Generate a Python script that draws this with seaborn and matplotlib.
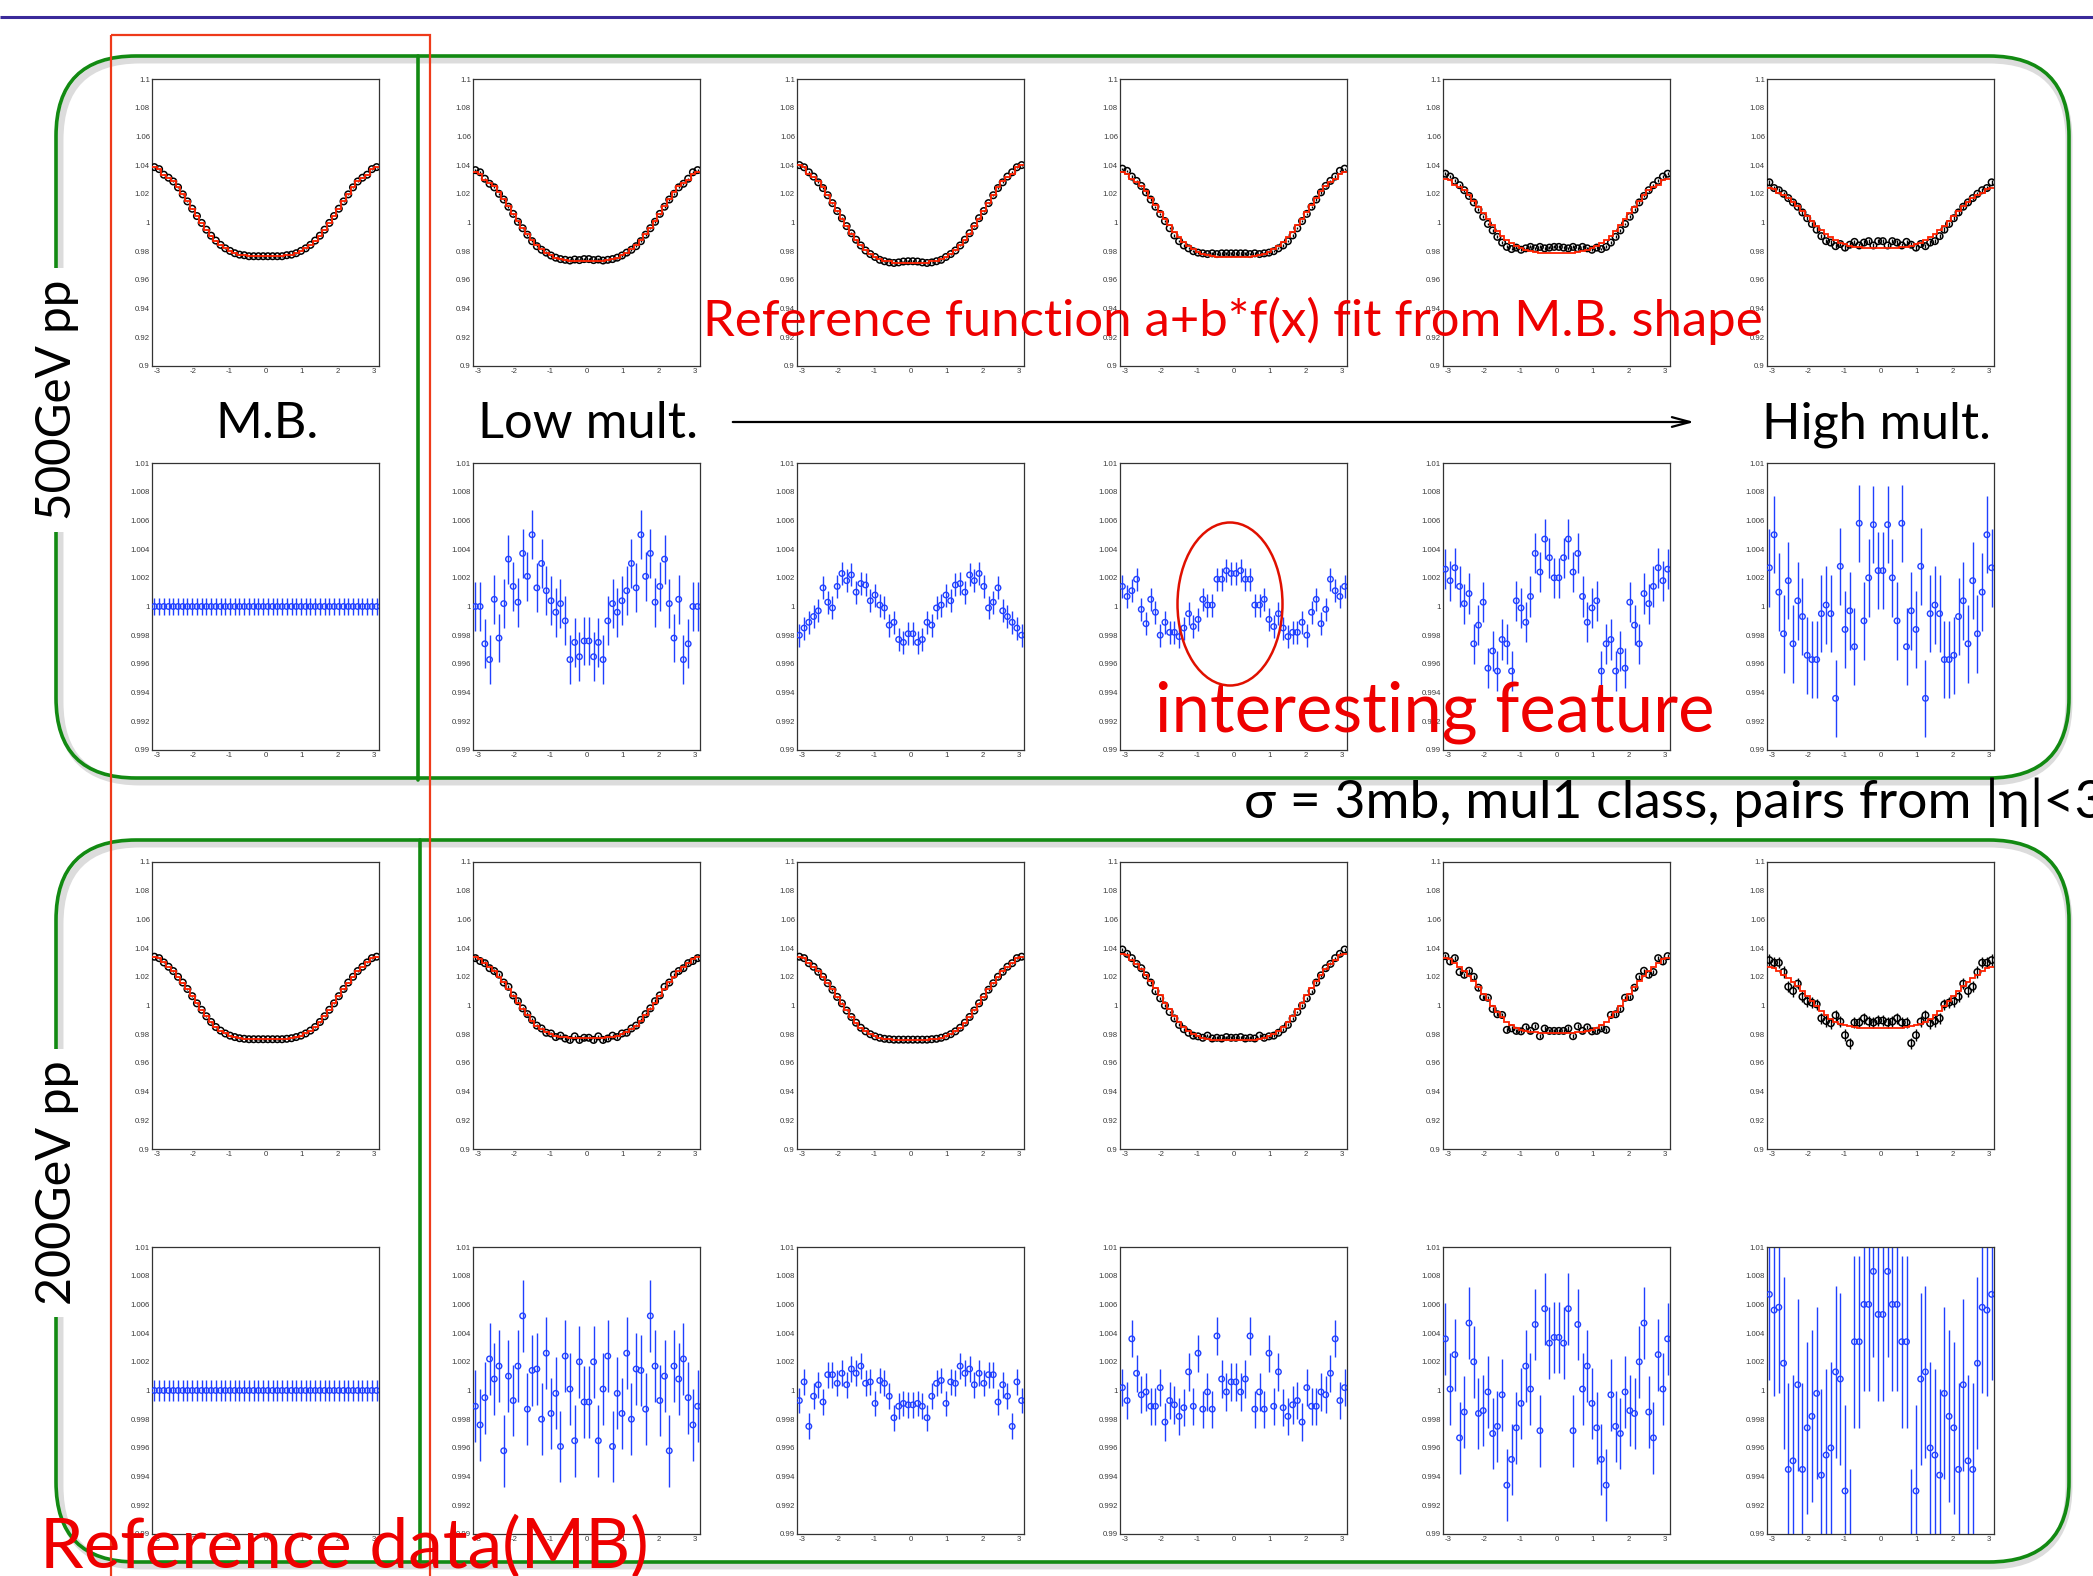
import numpy as np
import matplotlib
matplotlib.use("Agg")
import matplotlib.pyplot as plt
import seaborn as sns
from matplotlib.patches import FancyBboxPatch, Ellipse, Rectangle
from matplotlib.ticker import FixedLocator, MultipleLocator, FixedFormatter

# ---------------------------------------------------------------------------
# Data: 48 delta-phi bins on [-pi, pi]; the distributions are symmetrised,
# so each list holds the 24 bins from -pi up to 0 and is mirrored.
# ---------------------------------------------------------------------------
n_bins = 48
mult_labels = ["M.B.", "Low mult.", "", "", "", "High mult."]

# 500 GeV pp correlation functions (M.B. then five multiplicity classes)
c500_mb = [1.0386, 1.0372, 1.0333, 1.0312, 1.0286, 1.0245, 1.0196, 1.0147, 1.0096, 1.0045, 0.9997, 0.9950,
           0.9908, 0.9874, 0.9844, 0.9820, 0.9802, 0.9786, 0.9776, 0.9772, 0.9765, 0.9765, 0.9765, 0.9765]
c500_m1 = [1.0365, 1.0350, 1.0305, 1.0270, 1.0245, 1.0200, 1.0160, 1.0110, 1.0060, 1.0005, 0.9960, 0.9915,
           0.9870, 0.9835, 0.9810, 0.9790, 0.9770, 0.9755, 0.9745, 0.9740, 0.9735, 0.9742, 0.9738, 0.9745]
c500_m2 = [1.0400, 1.0385, 1.0350, 1.0320, 1.0280, 1.0240, 1.0190, 1.0135, 1.0080, 1.0030, 0.9975, 0.9925,
           0.9880, 0.9840, 0.9805, 0.9780, 0.9760, 0.9740, 0.9730, 0.9722, 0.9718, 0.9722, 0.9728, 0.9730]
c500_m3 = [1.0375, 1.0360, 1.0320, 1.0290, 1.0255, 1.0210, 1.0160, 1.0110, 1.0060, 1.0010, 0.9960, 0.9910,
           0.9870, 0.9840, 0.9820, 0.9800, 0.9790, 0.9785, 0.9780, 0.9785, 0.9780, 0.9785, 0.9785, 0.9785]
c500_m4 = [1.0340, 1.0320, 1.0290, 1.0260, 1.0225, 1.0185, 1.0140, 1.0090, 1.0040, 0.9990, 0.9945, 0.9900,
           0.9860, 0.9830, 0.9815, 0.9825, 0.9810, 0.9820, 0.9830, 0.9820, 0.9830, 0.9820, 0.9825, 0.9830]
c500_m5 = [1.0280, 1.0240, 1.0225, 1.0200, 1.0170, 1.0140, 1.0110, 1.0070, 1.0030, 0.9990, 0.9950, 0.9905,
           0.9870, 0.9860, 0.9835, 0.9850, 0.9825, 0.9845, 0.9865, 0.9840, 0.9860, 0.9870, 0.9840, 0.9870]
c500_err = [0.0003, 0.0008, 0.0006, 0.0008, 0.0010, 0.0016]

# 500 GeV pp: data / (a + b * M.B. shape)
r500_mb = [1.0000, 1.0000, 1.0000, 1.0000, 1.0000, 1.0000, 1.0000, 1.0000, 1.0000, 1.0000, 1.0000, 1.0000,
           1.0000, 1.0000, 1.0000, 1.0000, 1.0000, 1.0000, 1.0000, 1.0000, 1.0000, 1.0000, 1.0000, 1.0000]
r500_m1 = [1.0000, 1.0000, 0.9974, 0.9963, 1.0005, 0.9978, 1.0002, 1.0033, 1.0014, 1.0003, 1.0037, 1.0021,
           1.0050, 1.0013, 1.0030, 1.0011, 1.0004, 0.9996, 1.0002, 0.9990, 0.9963, 0.9975, 0.9965, 0.9976]
r500_m2 = [0.9980, 0.9985, 0.9989, 0.9993, 0.9997, 1.0013, 1.0003, 0.9999, 1.0014, 1.0023, 1.0018, 1.0022,
           1.0010, 1.0016, 1.0015, 1.0004, 1.0008, 1.0001, 0.9999, 0.9987, 0.9989, 0.9977, 0.9975, 0.9981]
r500_m3 = [1.0014, 1.0007, 1.0011, 1.0019, 0.9998, 0.9988, 1.0005, 0.9996, 0.9980, 0.9989, 0.9982, 0.9982,
           0.9979, 0.9985, 0.9995, 0.9986, 0.9991, 1.0005, 1.0001, 1.0001, 1.0019, 1.0019, 1.0025, 1.0023]
r500_m4 = [1.0026, 1.0018, 1.0027, 1.0014, 1.0002, 1.0009, 0.9974, 0.9987, 1.0003, 0.9957, 0.9969, 0.9955,
           0.9977, 0.9974, 0.9955, 1.0004, 0.9999, 0.9989, 1.0007, 1.0037, 1.0024, 1.0047, 1.0034, 1.0020]
r500_m5 = [1.0027, 1.0050, 1.0010, 0.9981, 1.0018, 0.9974, 1.0004, 0.9993, 0.9966, 0.9963, 0.9963, 0.9995,
           1.0001, 0.9995, 0.9936, 1.0028, 0.9984, 0.9997, 0.9972, 1.0058, 0.9990, 1.0020, 1.0057, 1.0025]
r500_err = [0.0006, 0.0017, 0.0008, 0.0008, 0.0014, 0.0027]

# 200 GeV pp correlation functions
c200_mb = [1.0340, 1.0330, 1.0300, 1.0270, 1.0240, 1.0200, 1.0160, 1.0115, 1.0065, 1.0015, 0.9970, 0.9925,
           0.9885, 0.9850, 0.9825, 0.9805, 0.9790, 0.9780, 0.9772, 0.9768, 0.9765, 0.9765, 0.9765, 0.9765]
c200_m1 = [1.0330, 1.0310, 1.0295, 1.0260, 1.0240, 1.0215, 1.0160, 1.0130, 1.0070, 1.0030, 0.9980, 0.9940,
           0.9900, 0.9860, 0.9840, 0.9810, 0.9805, 0.9780, 0.9790, 0.9770, 0.9760, 0.9785, 0.9760, 0.9775]
c200_m2 = [1.0340, 1.0330, 1.0295, 1.0270, 1.0235, 1.0200, 1.0155, 1.0110, 1.0060, 1.0015, 0.9965, 0.9920,
           0.9880, 0.9845, 0.9820, 0.9800, 0.9785, 0.9775, 0.9768, 0.9765, 0.9762, 0.9762, 0.9762, 0.9762]
c200_m3 = [1.0390, 1.0360, 1.0330, 1.0290, 1.0260, 1.0210, 1.0160, 1.0100, 1.0050, 1.0000, 0.9955, 0.9910,
           0.9865, 0.9835, 0.9810, 0.9790, 0.9785, 0.9775, 0.9790, 0.9770, 0.9775, 0.9770, 0.9780, 0.9775]
c200_m4 = [1.0344, 1.0307, 1.0330, 1.0233, 1.0214, 1.0242, 1.0200, 1.0124, 1.0059, 1.0054, 0.9976, 0.9939,
           0.9934, 0.9830, 0.9841, 0.9823, 0.9820, 0.9848, 0.9823, 0.9855, 0.9786, 0.9839, 0.9823, 0.9823]
c200_m5 = [1.0316, 1.0298, 1.0298, 1.0233, 1.0131, 1.0101, 1.0152, 1.0061, 1.0029, 1.0020, 1.0008, 0.9911,
           0.9892, 0.9876, 0.9932, 0.9888, 0.9793, 0.9737, 0.9881, 0.9881, 0.9911, 0.9888, 0.9881, 0.9895]
c200_err = [0.0004, 0.0012, 0.0006, 0.0010, 0.0015, 0.0040]

# 200 GeV pp: data / (a + b * M.B. shape)
r200_mb = [1.0000, 1.0000, 1.0000, 1.0000, 1.0000, 1.0000, 1.0000, 1.0000, 1.0000, 1.0000, 1.0000, 1.0000,
           1.0000, 1.0000, 1.0000, 1.0000, 1.0000, 1.0000, 1.0000, 1.0000, 1.0000, 1.0000, 1.0000, 1.0000]
r200_m1 = [0.9989, 0.9976, 0.9995, 1.0022, 1.0008, 1.0017, 0.9958, 1.0010, 0.9993, 1.0017, 1.0052, 0.9987,
           1.0014, 1.0015, 0.9980, 1.0026, 0.9984, 0.9998, 0.9961, 1.0024, 1.0001, 0.9965, 1.0020, 0.9992]
r200_m2 = [0.9993, 1.0006, 0.9975, 0.9996, 1.0004, 0.9992, 1.0011, 1.0011, 1.0005, 1.0012, 1.0004, 1.0015,
           1.0012, 1.0017, 1.0005, 1.0006, 0.9991, 1.0007, 1.0005, 0.9996, 0.9981, 0.9989, 0.9991, 0.9990]
r200_m3 = [1.0002, 0.9993, 1.0036, 1.0012, 0.9997, 0.9999, 0.9989, 0.9989, 1.0002, 0.9978, 0.9993, 0.9990,
           0.9982, 0.9988, 1.0013, 0.9989, 1.0026, 0.9987, 0.9999, 0.9987, 1.0038, 1.0008, 0.9999, 1.0006]
r200_m4 = [1.0036, 1.0001, 1.0025, 0.9967, 0.9985, 1.0047, 1.0020, 0.9984, 0.9986, 0.9999, 0.9970, 0.9975,
           0.9997, 0.9934, 0.9952, 0.9974, 0.9991, 1.0017, 1.0001, 1.0046, 0.9972, 1.0057, 1.0033, 1.0037]
r200_m5 = [1.0067, 1.0056, 1.0058, 1.0019, 0.9945, 0.9951, 1.0004, 0.9945, 0.9974, 0.9982, 0.9998, 0.9941,
           0.9955, 0.9960, 1.0013, 1.0008, 0.9930, 0.9885, 1.0034, 1.0034, 1.0060, 1.0060, 1.0083, 1.0053]
r200_err = [0.0007, 0.0025, 0.0009, 0.0013, 0.0025, 0.0060]

corr_500 = [c500_mb, c500_m1, c500_m2, c500_m3, c500_m4, c500_m5]
ratio_500 = [r500_mb, r500_m1, r500_m2, r500_m3, r500_m4, r500_m5]
corr_200 = [c200_mb, c200_m1, c200_m2, c200_m3, c200_m4, c200_m5]
ratio_200 = [r200_mb, r200_m1, r200_m2, r200_m3, r200_m4, r200_m5]

corr_ticks = [0.9, 0.92, 0.94, 0.96, 0.98, 1.0, 1.02, 1.04, 1.06, 1.08, 1.1]
ratio_ticks = [0.99, 0.992, 0.994, 0.996, 0.998, 1.0, 1.002, 1.004, 1.006, 1.008, 1.01]
x_ticks = [-3, -2, -1, 0, 1, 2, 3]


def full_range(half):
    h = np.asarray(half, dtype=float)
    return np.concatenate([h, h[::-1]])


edges = np.linspace(-np.pi, np.pi, n_bins + 1)
centers = 0.5 * (edges[:-1] + edges[1:])

# ---------------------------------------------------------------------------
# Figure
# ---------------------------------------------------------------------------
sns.set_style("white")
plt.rcParams["font.family"] = ["Liberation Sans", "DejaVu Sans"]

W, H = 2093, 1576
fig = plt.figure(figsize=(W / 100, H / 100), dpi=100)
fig.patch.set_facecolor("white")

col_left = [152, 473, 797, 1120, 1443, 1767]
row_top = [79, 463, 862, 1247]
pw, ph = 227, 287

BLUE = "#2040ff"
RED = "#ff2200"


def label_fmt(v, nd):
    s = f"{v:.{nd}f}".rstrip("0").rstrip(".")
    return s


def style_axis(ax, ticks, minor_step, nd, ylim):
    ax.set_xlim(-np.pi, np.pi)
    ax.set_ylim(*ylim)
    ax.yaxis.set_major_locator(FixedLocator(ticks))
    ax.yaxis.set_major_formatter(FixedFormatter([label_fmt(t, nd) for t in ticks]))
    ax.yaxis.set_minor_locator(MultipleLocator(minor_step))
    ax.xaxis.set_major_locator(FixedLocator(x_ticks))
    ax.xaxis.set_major_formatter(FixedFormatter([str(t) for t in x_ticks]))
    ax.xaxis.set_minor_locator(MultipleLocator(0.2))
    ax.tick_params(which="both", direction="in", top=False, right=False,
                   width=0.8, colors="#111111", labelcolor="#3a3a3a",
                   labelsize=5.6, pad=1.5)
    ax.tick_params(which="major", length=5.5)
    ax.tick_params(which="minor", length=2.8)
    for sp in ax.spines.values():
        sp.set_linewidth(0.9)
        sp.set_color("#333333")
    ax.grid(False)


def draw_points(ax, y, err, color, size, lw):
    ax.errorbar(centers, y, yerr=err, fmt="none", ecolor=color,
                elinewidth=1.0, capsize=0, zorder=2)
    sns.scatterplot(x=centers, y=y, ax=ax, marker="o", s=size,
                    facecolor="none", edgecolor=color, linewidth=lw,
                    zorder=3, legend=False)


def add_panel(col, row):
    left = col_left[col] / W
    bottom = 1 - (row_top[row] + ph) / H
    return fig.add_axes([left, bottom, pw / W, ph / H])


for e_idx, (corr, ratio, cerr, rerr) in enumerate(
        [(corr_500, ratio_500, c500_err, r500_err),
         (corr_200, ratio_200, c200_err, r200_err)]):
    mb = full_range(corr[0])
    for c in range(6):
        data = full_range(corr[c])
        slope, intercept = np.polyfit(mb, data, 1)
        fit = intercept + slope * mb

        ax = add_panel(c, 2 * e_idx)
        style_axis(ax, corr_ticks, 0.004, 2, (0.9, 1.1))
        draw_points(ax, data, cerr[c], "black", 22, 1.1)
        ax.stairs(fit, edges, color=RED, linewidth=1.3, baseline=None, zorder=4)

        ax = add_panel(c, 2 * e_idx + 1)
        style_axis(ax, ratio_ticks, 0.0004, 3, (0.99, 1.01))
        draw_points(ax, full_range(ratio[c]), rerr[c], BLUE, 16, 1.0)

# ---------------------------------------------------------------------------
# Slide decorations in pixel coordinates
# ---------------------------------------------------------------------------
ov = fig.add_axes([0, 0, 1, 1])
ov.set_xlim(0, W)
ov.set_ylim(H, 0)
ov.axis("off")
ov.patch.set_alpha(0)
ov.set_zorder(10)

GREEN = "#128a12"
ov.plot([0, W], [17, 17], color="#3a2a9a", lw=2.2, solid_capstyle="butt")

for top, bot in [(56, 778), (840, 1562)]:
    shadow = FancyBboxPatch((60, top + 4), 2009, bot - top,
                            boxstyle="round,pad=0,rounding_size=80",
                            fill=False, ec="#dcdcdc", lw=5)
    ov.add_patch(shadow)
    box = FancyBboxPatch((56, top), 2013, bot - top,
                         boxstyle="round,pad=0,rounding_size=80",
                         fill=False, ec=GREEN, lw=2.6)
    ov.add_patch(box)
ov.plot([418, 418], [56, 780], color=GREEN, lw=2.6)
ov.plot([420, 420], [840, 1562], color=GREEN, lw=2.6)

ov.add_patch(Rectangle((111, 35), 319, 1600, fill=False, ec="#ee3a1a", lw=1.6))

renderer = fig.canvas.get_renderer()
SLIDE_FONT = ["Lato", "DejaVu Sans"]


def fit_text(x, y, s, target, vertical=False, **kw):
    t = ov.text(x, y, s, fontsize=20, family=SLIDE_FONT, **kw)
    bb = t.get_window_extent(renderer=renderer)
    size = bb.height if vertical else bb.width
    t.set_fontsize(20 * target / size)
    return t


fit_text(57, 400, "500GeV pp", 241, vertical=True, rotation=90, ha="center",
         va="center", color="black",
         bbox=dict(facecolor="white", edgecolor="none", pad=5))
fit_text(57, 1183, "200GeV pp", 245, vertical=True, rotation=90, ha="center",
         va="center", color="black",
         bbox=dict(facecolor="white", edgecolor="none", pad=5))

fit_text(215, 438, mult_labels[0], 103, ha="left", va="baseline", color="black")
fit_text(478, 438, mult_labels[1], 220, ha="left", va="baseline", color="black")
fit_text(1762, 438, mult_labels[5], 230, ha="left", va="baseline", color="black")
ov.annotate("", xy=(1697, 422), xytext=(730, 422),
            arrowprops=dict(arrowstyle="->,head_length=1.3,head_width=0.35",
                            lw=1.6, color="black"))

fit_text(703, 336, "Reference function a+b*f(x) fit from M.B. shape", 1062,
         ha="left", va="baseline", color="#ee0000")
ov.add_patch(Ellipse((1230, 604), 105, 163, fill=False, ec="#e01000", lw=1.8))
fit_text(1155, 731, "interesting feature", 563, ha="left", va="baseline",
         color="#ee0000")
fit_text(1244, 818, "σ = 3mb, mul1 class, pairs from |η|<3", 862,
         ha="left", va="baseline", color="black")
fit_text(40, 1568, "Reference data(MB)", 610, ha="left", va="baseline",
         color="#ee0000")

fig.savefig("out.png", dpi=100, facecolor="white")
